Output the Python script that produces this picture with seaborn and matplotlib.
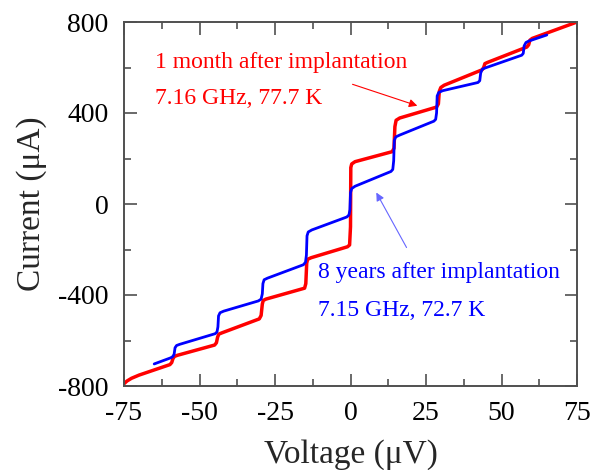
import matplotlib
matplotlib.use('Agg')
import matplotlib.pyplot as plt
from matplotlib.ticker import MultipleLocator
import seaborn as sns

# I-V data (voltage in uV, current in uA)
red_v = [-75, -74, -72.5, -70, -59.8, -59.2, -58.8, -58.3, -57.3, -45, -44.4, -44, -43.6,
         -42.5, -30.2, -29.6, -29.2, -28.9, -28, -15.2, -14.8, -14.5, -14.2, -13, -1,
         -0.3, 0, 0.1, 0.4, 1.5, 13.8, 14.4, 14.7, 15.1, 16.3, 28.5, 29.1, 29.4, 29.9,
         31, 43.6, 44.1, 44.5, 45.3, 58.4, 59, 59.4, 60.2, 75]
red_i = [-790, -778, -766, -752, -706, -697, -680, -670, -665, -620, -610, -585, -572,
         -566, -505, -490, -440, -424, -418, -370, -350, -260, -243, -236, -188,
         -180, -100, 160, 176, 186, 230, 245, 340, 368, 378, 426, 440, 495, 512,
         522, 590, 600, 617, 622, 690, 700, 720, 728, 800]

blue_v = [-65, -59.5, -58.8, -58.4, -58.1, -57.6, -56.6, -44.8, -44.2, -43.9, -43.7,
          -43.2, -42, -30.5, -29.6, -29.2, -29, -28.6, -27.5, -15.6, -14.9, -14.6,
          -14.4, -14, -12.8, -1.2, -0.5, -0.2, 0, 0.4, 1.5, 13.4, 14, 14.3, 14.5, 15,
          16.3, 27.6, 28.2, 28.5, 28.7, 29.2, 30.5, 42.2, 42.8, 43.1, 43.6, 44.6,
          56.7, 57.2, 57.5, 58.1, 59, 65]
blue_i = [-703, -676, -670, -660, -632, -622, -617, -570, -562, -540, -492,
          -478, -471, -426, -418, -395, -350, -333, -326, -267, -256, -225,
          -140, -123, -114, -57, -48, -25, 50, 68, 78, 143, 152, 190, 280, 295,
          303, 364, 372, 400, 475, 490, 498, 534, 542, 575, 592, 598,
          654, 662, 695, 710, 716, 743]

red_text = ['1 month after implantation', '7.16 GHz, 77.7 K']
blue_text = ['8 years after implantation', '7.15 GHz, 72.7 K']

sns.set_style('ticks')
plt.rcParams['font.family'] = ['Liberation Serif', 'DejaVu Serif']
plt.rcParams['axes.unicode_minus'] = False

fig = plt.figure(figsize=(5.98, 4.70), dpi=100)
ax = fig.add_axes([124 / 598, 84 / 470, 453 / 598, 364 / 470])

sns.lineplot(x=red_v, y=red_i, sort=False, estimator=None, color='#ff0000', lw=2.5, ax=ax)
sns.lineplot(x=blue_v, y=blue_i, sort=False, estimator=None, color='#0000ff', lw=2.0, ax=ax)

ax.set_xlim(-75, 75)
ax.set_ylim(-800, 800)
ax.xaxis.set_major_locator(MultipleLocator(25))
ax.xaxis.set_minor_locator(MultipleLocator(12.5))
ax.yaxis.set_major_locator(MultipleLocator(400))
ax.yaxis.set_minor_locator(MultipleLocator(200))
ax.tick_params(which='both', direction='in', top=True, right=True, color='#505050',
               width=1.2, labelsize=20, labelcolor='black')
ax.tick_params(which='major', length=9, pad=11)
ax.tick_params(which='minor', length=5)
for s in ax.spines.values():
    s.set_color('#505050')
    s.set_linewidth(1.4)

ax.set_xlabel('Voltage (\u03bcV)', fontsize=24, labelpad=9)
ax.set_ylabel('Current (\u03bcA)', fontsize=24, labelpad=8)

# annotations
ax.text(-64.7, 624, red_text[0], color='#ff0000', fontsize=17, va='center')
ax.text(-64.7, 462, red_text[1], color='#ff0000', fontsize=17, va='center')
ax.annotate('', xy=(23.0, 428), xytext=(-0.2, 530),
            arrowprops=dict(arrowstyle='-|>', color='#ff0000', lw=0.8, mutation_scale=12))

ax.text(-10.8, -299, blue_text[0], color='#0000ff', fontsize=17, va='center')
ax.text(-10.8, -466, blue_text[1], color='#0000ff', fontsize=17, va='center')
ax.annotate('', xy=(8.1, 61), xytext=(19.0, -202),
            arrowprops=dict(arrowstyle='-|>', color='#6666ff', lw=0.8, mutation_scale=12))

fig.savefig('out.png', dpi=100)
